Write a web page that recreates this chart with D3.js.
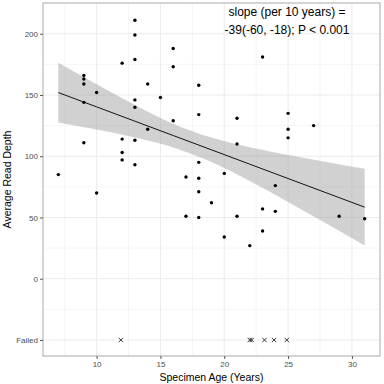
<!DOCTYPE html>
<html>
<head>
<meta charset="utf-8">
<script src="https://cdn.jsdelivr.net/npm/d3@7"></script>
<style>
  body { margin: 0; background: #fff; }
  text { font-family: "Liberation Sans", Arial, sans-serif; }
</style>
</head>
<body>
<div id="chart"></div>
<script>
// specimen age (years) and average read depth, successful samples
var ages = [7,
  9, 9, 9, 9, 9,
  10, 10,
  12, 12, 12, 12,
  13, 13, 13, 13, 13, 13, 13,
  14, 14,
  15,
  16, 16, 16,
  17, 17,
  18, 18, 18, 18, 18, 18,
  19,
  20, 20,
  21, 21, 21,
  22,
  23, 23, 23,
  24, 24,
  25, 25, 25,
  27, 29, 31];
var depths = [85,
  166, 163, 159, 144, 111,
  152, 70,
  176, 114, 103, 97,
  211, 199, 179, 146, 140, 113, 93,
  159, 122,
  148,
  188, 173, 129,
  83, 51,
  158, 134, 95, 82, 71, 50,
  62,
  86, 34,
  131, 110, 51,
  27,
  181, 57, 39,
  76, 55,
  135, 122, 115,
  125, 51, 49];
// ages of samples that failed sequencing
var failedAges = [11.9, 22, 22.15, 23.15, 23.9, 24.9];

// fitted line and 95% band
var fitAges  = [7, 10, 13, 16, 19, 22, 25, 28, 31];
var fitDepth = [152, 140.3, 128.6, 116.9, 105.2, 93.5, 81.8, 70.1, 58.4];
var fitLower = [127.6, 121.8, 115.3, 107.2, 95.2, 79.7, 62.6, 45, 27.1];
var fitUpper = [176.4, 158.8, 141.9, 126.6, 115.2, 107.3, 101, 95.2, 89.7];

var yTicks = [0, 50, 100, 150, 200];
var xTicks = [10, 15, 20, 25, 30];
var FAILED = -50;

var margin = {top: 3, right: 4, bottom: 28, left: 43},
    width = 384 - margin.left - margin.right,
    height = 384 - margin.top - margin.bottom;

var x = d3.scaleLinear().domain([5.8, 32.2]).range([0, width]);
var y = d3.scaleLinear().domain([-63.1, 225.1]).range([height, 0]);

var svg = d3.select("#chart").append("svg")
    .attr("width", 384)
    .attr("height", 384);

var g = svg.append("g")
    .attr("transform", "translate(" + margin.left + "," + margin.top + ")");

// grid
var minorX = xTicks.map(function(d) { return d - 2.5; });
var minorY = [-25, 25, 75, 125, 175];
g.selectAll(".minx").data(minorX).enter().append("line")
    .attr("x1", x).attr("x2", x).attr("y1", 0).attr("y2", height)
    .attr("stroke", "#f5f5f5").attr("stroke-width", 1);
g.selectAll(".miny").data(minorY).enter().append("line")
    .attr("y1", y).attr("y2", y).attr("x1", 0).attr("x2", width)
    .attr("stroke", "#f5f5f5").attr("stroke-width", 1);
g.selectAll(".majx").data(xTicks).enter().append("line")
    .attr("x1", x).attr("x2", x).attr("y1", 0).attr("y2", height)
    .attr("stroke", "#ebebeb").attr("stroke-width", 1);
g.selectAll(".majy").data(yTicks.concat([FAILED])).enter().append("line")
    .attr("y1", y).attr("y2", y).attr("x1", 0).attr("x2", width)
    .attr("stroke", "#ebebeb").attr("stroke-width", 1);

// confidence band + fit line
g.append("path").datum(fitAges)
    .attr("fill", "#999").attr("fill-opacity", 0.45)
    .attr("d", d3.area().curve(d3.curveMonotoneX)
      .x(function(d) { return x(d); })
      .y0(function(d, i) { return y(fitLower[i]); })
      .y1(function(d, i) { return y(fitUpper[i]); }));

g.append("path").datum(fitAges)
    .attr("fill", "none").attr("stroke", "#111").attr("stroke-width", 1)
    .attr("d", d3.line().x(function(d) { return x(d); })
      .y(function(d, i) { return y(fitDepth[i]); }));

// points
g.selectAll(".pt").data(ages).enter().append("circle")
    .attr("cx", function(d) { return x(d); })
    .attr("cy", function(d, i) { return y(depths[i]); })
    .attr("r", 1.7).attr("fill", "#000");

// failed samples
var cross = d3.symbol().type(d3.symbolX).size(14);
g.selectAll(".fail").data(failedAges).enter().append("path")
    .attr("transform", function(d) { return "translate(" + x(d) + "," + y(FAILED) + ")"; })
    .attr("d", cross)
    .attr("fill", "none").attr("stroke", "#222").attr("stroke-width", 0.9);

// panel border
g.append("rect").attr("width", width).attr("height", height)
    .attr("fill", "none").attr("stroke", "#aaa").attr("stroke-width", 1);

// axes
var yAxis = g.append("g")
    .call(d3.axisLeft(y).tickValues(yTicks.concat([FAILED]))
      .tickSize(3).tickPadding(2)
      .tickFormat(function(d) { return d === FAILED ? "Failed" : d; }));
var xAxis = g.append("g")
    .attr("transform", "translate(0," + height + ")")
    .call(d3.axisBottom(x).tickValues(xTicks).tickSize(3).tickPadding(2));
[xAxis, yAxis].forEach(function(ax) {
  ax.select(".domain").remove();
  ax.selectAll(".tick line").attr("stroke", "#555");
  ax.selectAll(".tick text").attr("fill", "#4d4d4d").style("font-size", "8px");
});

// titles
svg.append("text")
    .attr("x", margin.left + width / 2).attr("y", 381)
    .attr("text-anchor", "middle").style("font-size", "10.5px").attr("fill", "#000")
    .text("Specimen Age (Years)");
svg.append("text")
    .attr("transform", "translate(11," + (margin.top + height / 2) + ") rotate(-90)")
    .attr("text-anchor", "middle").style("font-size", "10.5px").attr("fill", "#000")
    .text("Average Read Depth");

// annotation
var note = svg.append("text").attr("text-anchor", "middle")
    .style("font-size", "12px").attr("fill", "#000");
note.append("tspan").attr("x", 287).attr("y", 16).text("slope (per 10 years) =");
note.append("tspan").attr("x", 287).attr("y", 34).text("-39(-60, -18); P < 0.001");
</script>
</body>
</html>
